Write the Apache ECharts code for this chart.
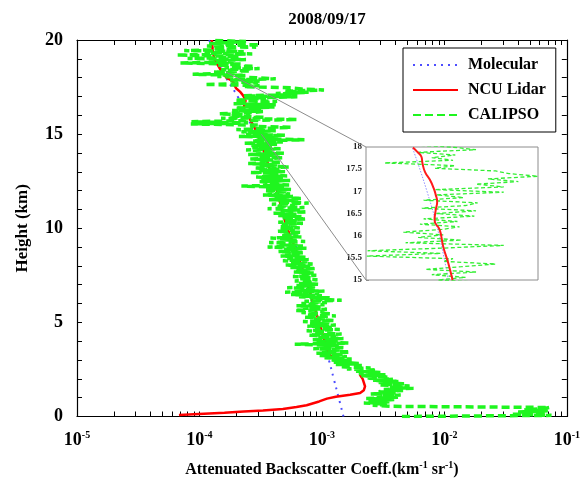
<!DOCTYPE html>
<html>
<head>
<meta charset="utf-8">
<script src="https://cdn.jsdelivr.net/npm/echarts@6/dist/echarts.min.js"></script>
<style>
  html, body { margin: 0; padding: 0; background: #fff; }
  #chart { width: 583px; height: 483px; }
</style>
</head>
<body>
<div id="chart"></div>
<script>
// ---- data ----
const molHeight = [0, 1, 2, 3, 4, 5, 6, 7, 8, 9, 10, 11, 12, 13, 14, 15, 16, 17, 18, 19, 20];
const molBeta = [1.50e-3, 1.37e-3, 1.25e-3, 1.14e-3, 1.03e-3, 9.3e-4, 8.4e-4, 7.6e-4, 6.9e-4, 6.2e-4,
  5.5e-4, 4.9e-4, 4.3e-4, 3.8e-4, 3.3e-4, 2.8e-4, 2.45e-4, 2.05e-4, 1.65e-4, 1.4e-4, 1.2e-4];

const lidarHeight = [0.08, 0.12, 0.16, 0.2, 0.26, 0.32, 0.4, 0.5, 0.6, 0.8, 0.95, 1.05, 1.15, 1.25, 1.4,
  1.6, 1.8, 2.0, 2.2, 2.4, 2.6, 2.8, 2.9, 3.0, 3.5, 4, 5, 6, 7, 8, 9, 10, 11, 12, 13, 14,
  15.0, 15.38, 15.75, 16.13, 16.35, 16.58, 16.77, 16.92, 17.07, 17.26, 17.44, 17.63, 17.78, 17.89, 17.99,
  18.25, 18.5, 19, 19.5, 20];
const lidarBeta = [6.8e-5, 9e-5, 1.2e-4, 1.6e-4, 2.3e-4, 3.3e-4, 4.8e-4, 6.2e-4, 7.5e-4, 9.5e-4, 1.1e-3, 1.3e-3, 1.7e-3, 2.05e-3, 2.2e-3,
  2.25e-3, 2.2e-3, 2.15e-3, 2.05e-3, 2.1e-3, 2.1e-3, 1.9e-3, 1.5e-3, 1.25e-3, 1.1e-3, 1.05e-3, 9.5e-4, 8.5e-4, 7.7e-4, 6.8e-4, 6.0e-4, 5.2e-4, 4.7e-4, 4.3e-4, 3.8e-4, 3.4e-4,
  2.98e-4, 2.8e-4, 2.6e-4, 2.47e-4, 2.29e-4, 2.33e-4, 2.38e-4, 2.33e-4, 2.26e-4, 2.14e-4, 1.99e-4, 1.92e-4, 1.89e-4, 1.78e-4, 1.67e-4,
  1.55e-4, 1.46e-4, 1.32e-4, 1.28e-4, 1.26e-4];

// CALIPSO profile, one value every 60 m starting at the ground
const CALIPSO_DZ = 0.06;
const calipsoBeta = [
  4.5e-3, 7.5e-2, 3.5e-2, 6.8e-2, 4.0e-2, 7.0e-2, 4.5e-2, 6.5e-2, 7.2e-2, 3.6e-3,
  2.6e-3, 3.4e-3, 2.2e-3, 3.6e-3, 2.4e-3, 3.9e-3, 2.3e-3, 4.2e-3, 2.8e-3, 4.4e-3,
  2.5e-3, 4.0e-3, 2.9e-3, 4.6e-3, 3.2e-3, 5.6e-3, 3.6e-3, 5.2e-3, 3.0e-3, 4.8e-3,
  2.9e-3, 4.3e-3, 2.6e-3, 3.8e-3, 2.3e-3, 3.5e-3, 2.1e-3, 3.3e-3, 2.0e-3, 3.0e-3,
  1.9e-3, 2.8e-3, 1.6e-3, 2.5e-3, 1.4e-3, 2.2e-3, 1.3e-3, 2.0e-3, 1.25e-3, 1.8e-3,
  1.2e-3, 1.75e-3, 1.05e-3, 1.6e-3, 9.5e-4, 1.5e-3, 9.0e-4, 1.7e-3, 1.0e-3, 1.45e-3,
  8.5e-4, 1.55e-3, 9.5e-4, 1.4e-3, 6.0e-4, 1.65e-3, 8.8e-4, 1.35e-3, 8.2e-4, 1.5e-3,
  9.0e-4, 1.3e-3, 7.8e-4, 1.45e-3, 8.5e-4, 1.2e-3, 7.5e-4, 1.4e-3, 8.8e-4, 1.25e-3,
  7.6e-4, 1.3e-3, 8.0e-4, 1.15e-3, 7.0e-4, 1.25e-3, 8.5e-4, 1.1e-3, 7.2e-4, 1.3e-3,
  7.5e-4, 1.2e-3, 6.8e-4, 1.05e-3, 6.0e-4, 1.1e-3, 7.0e-4, 9.8e-4, 6.2e-4, 1.05e-3,
  6.8e-4, 1.1e-3, 7.2e-4, 1.45e-3, 8.0e-4, 1.2e-3, 6.5e-4, 1.0e-3, 5.6e-4, 9.5e-4,
  5.0e-4, 1.05e-3, 6.0e-4, 9.0e-4, 5.2e-4, 8.8e-4, 6.2e-4, 9.4e-4, 6.5e-4, 8.5e-4,
  6.0e-4, 9.2e-4, 6.4e-4, 8.2e-4, 5.8e-4, 9.0e-4, 6.6e-4, 8.6e-4, 5.9e-4, 8.0e-4,
  6.2e-4, 9.0e-4, 5.5e-4, 8.2e-4, 5.0e-4, 8.4e-4, 5.6e-4, 7.6e-4, 4.8e-4, 7.8e-4,
  5.2e-4, 7.4e-4, 4.6e-4, 6.8e-4, 5.0e-4, 7.2e-4, 4.4e-4, 6.6e-4, 4.9e-4, 7.5e-4,
  3.6e-4, 7.0e-4, 4.5e-4, 6.5e-4, 3.7e-4, 7.3e-4, 4.8e-4, 6.2e-4, 3.8e-4, 6.8e-4,
  4.6e-4, 6.4e-4, 4.9e-4, 6.8e-4, 4.3e-4, 6.0e-4, 4.6e-4, 6.6e-4, 4.5e-4, 6.1e-4,
  4.7e-4, 7.0e-4, 4.4e-4, 6.4e-4, 5.0e-4, 7.4e-4, 4.6e-4, 6.8e-4, 4.4e-4, 6.2e-4,
  4.0e-4, 7.6e-4, 4.6e-4, 6.6e-4, 3.6e-4, 7.2e-4, 4.2e-4, 6.0e-4, 3.9e-4, 7.8e-4,
  4.4e-4, 6.4e-4, 3.7e-4, 6.9e-4, 4.1e-4, 5.8e-4, 3.3e-4, 5.5e-4, 3.6e-4, 5.2e-4,
  3.4e-4, 5.6e-4, 3.5e-4, 4.9e-4, 2.2e-4, 5.4e-4, 3.3e-4, 4.6e-4, 3.1e-4, 5.5e-4,
  3.2e-4, 4.8e-4, 2.9e-4, 5.2e-4, 3.3e-4, 4.4e-4, 2.6e-4, 5.0e-4, 3.0e-4, 4.5e-4,
  2.8e-4, 5.4e-4, 3.1e-4, 4.3e-4, 2.5e-4, 4.7e-4, 3.0e-4, 4.0e-4, 2.6e-4, 4.8e-4,
  3.0e-4, 4.4e-4, 2.5e-4, 4.9e-4, 2.9e-4, 4.1e-4, 2.4e-4, 4.6e-4, 2.7e-4, 3.9e-4,
  2.6e-4, 4.3e-4, 2.3e-4, 4.8e-4, 2.7e-4, 7.2e-4, 3.0e-4, 4.5e-4, 2.1e-4, 5.0e-4,
  2.4e-4, 3.6e-4, 2.2e-4, 4.2e-4, 2.0e-4, 3.4e-4, 5.6e-4, 2.6e-4, 3.0e-4, 8.5e-5,
  2.5e-4, 8.6e-5, 2.6e-4, 6.3e-4, 1.5e-4, 3.4e-4, 1.8e-4, 2.6e-4, 1.45e-4, 2.55e-4,
  3.3e-4, 1.85e-4, 3.2e-4, 1.95e-4, 4.1e-4, 2.35e-4, 4.2e-4, 1.9e-4, 3.6e-4, 4.3e-4,
  1.95e-4, 3.5e-4, 2.35e-4, 6.3e-4, 2.3e-4, 6.3e-4, 4.2e-4, 7.8e-4, 5.0e-4, 1.04e-3,
  6.8e-4, 5.6e-4, 2.3e-4, 3.1e-4, 1.1e-4, 3.0e-4, 2.2e-4, 3.1e-4, 1.78e-4, 4.2e-4,
  2.9e-4, 1.4e-4, 2.4e-4, 8.8e-5, 2.0e-4, 1.3e-4, 2.6e-4, 1.5e-4, 3.1e-4, 1.6e-4,
  2.8e-4, 1.4e-4, 2.2e-4, 7.0e-5, 1.9e-4, 1.2e-4, 2.4e-4, 8.0e-5, 1.7e-4, 2.1e-4,
  6.5e-5, 2.7e-4, 1.1e-4, 2.3e-4, 7.5e-5, 1.8e-4, 1.3e-4, 2.9e-4, 1.15e-4, 3.1e-4,
  1.2e-4, 1.6e-4, 2.4e-4, 1.3e-4
];
const calipsoHeight = calipsoBeta.map((_, i) => +(i * CALIPSO_DZ).toFixed(2));

// axes
const xDecades = [1e-5, 1e-4, 1e-3, 1e-2, 1e-1];
const xMantissa = [1, 2, 3, 4, 5, 6, 7, 8, 9];
const yLabels = [0, 5, 10, 15, 20];
const zoomRange = [15, 18];            // km shown in the inset
const insetX = [8.4e-5, 1.04e-3];
const insetTicks = [1e-4, 1.8e-4, 3.2e-4, 5.9e-4];
// connector start points on the main plot
const zoomAnchors = [[1.65e-4, 18.3], [3.2e-4, 15.0]];

const SERIF = '"Liberation Serif", "Times New Roman", serif';

const xMinorTicks = [];
xDecades.forEach(d => xMantissa.forEach(m => {
  const v = +(d * m).toPrecision(3);
  if (v <= 0.1 + 1e-12) xMinorTicks.push(v);
}));

const pairs = (xs, ys) => xs.map((x, i) => [x, ys[i]]);
const inZoom = (pts) => pts.filter(p => p[1] >= zoomRange[0] - 0.07 && p[1] <= zoomRange[1] + 0.07);

const molData = pairs(molBeta, molHeight);
const lidarData = pairs(lidarBeta, lidarHeight);
const calipsoData = pairs(calipsoBeta, calipsoHeight);

const chart = echarts.init(document.getElementById('chart'), null, { renderer: 'canvas' });

const mainX = (pos, withLabels) => ({
  type: 'log', logBase: 10, gridIndex: 0, position: pos,
  min: 1e-5, max: 1e-1,
  axisLine: { onZero: false, lineStyle: { color: '#000', width: 1.2 } },
  axisTick: { show: true, inside: true, length: 5, customValues: xMinorTicks, lineStyle: { color: '#000' } },
  axisLabel: withLabels ? {
    show: true, customValues: xDecades, margin: 14,
    formatter: v => '{b|10}{s|' + Math.round(Math.log10(v)) + '}',
    rich: {
      b: { fontFamily: SERIF, fontWeight: 'bold', fontSize: 18, color: '#000' },
      s: { fontFamily: SERIF, fontWeight: 'bold', fontSize: 10, color: '#000', padding: [0, 0, 10, 0] }
    }
  } : { show: false },
  splitLine: { show: false },
  name: withLabels ? 'Attenuated Backscatter Coeff.(km{s|-1} sr{s|-1})' : '',
  nameLocation: 'middle', nameGap: 44,
  nameTextStyle: {
    fontFamily: SERIF, fontWeight: 'bold', fontSize: 16, color: '#000',
    rich: { s: { fontFamily: SERIF, fontWeight: 'bold', fontSize: 10, color: '#000', padding: [0, 0, 9, 0] } }
  }
});

const mainY = (pos, withLabels) => ({
  type: 'value', gridIndex: 0, position: pos,
  min: 0, max: 20, interval: 1,
  axisLine: { onZero: false, lineStyle: { color: '#000', width: 1.2 } },
  axisTick: { show: true, inside: true, length: 5, lineStyle: { color: '#000' } },
  axisLabel: withLabels ? {
    show: true, customValues: yLabels, margin: 14,
    fontFamily: SERIF, fontWeight: 'bold', fontSize: 18, color: '#000'
  } : { show: false },
  splitLine: { show: false },
  name: withLabels ? 'Height (km)' : '',
  nameLocation: 'middle', nameGap: 46,
  nameTextStyle: { fontFamily: SERIF, fontWeight: 'bold', fontSize: 17, color: '#000' }
});

const option = {
  animation: false,
  backgroundColor: '#fff',
  title: {
    text: '2008/09/17', left: 322, top: 6, textAlign: 'center',
    textStyle: { fontFamily: SERIF, fontWeight: 'bold', fontSize: 17, color: '#000' }
  },
  legend: {
    data: ['Molecular', 'NCU Lidar', 'CALIPSO'],
    orient: 'vertical', left: 403, top: 48,
    itemWidth: 45, itemHeight: 14, itemGap: 9,
    padding: [9, 10, 9, 9],
    itemStyle: { opacity: 0 },
    backgroundColor: '#fff', borderColor: '#000', borderWidth: 1,
    textStyle: { fontFamily: SERIF, fontWeight: 'bold', fontSize: 16, color: '#000', padding: [0, 0, 0, 5] },
    selectedMode: false
  },
  grid: [
    { left: 77, right: 15, top: 40, bottom: 65, show: false },
    { left: 366, right: 45, top: 147, bottom: 203, show: true, backgroundColor: '#fff', borderColor: '#8c8c8c', borderWidth: 1, z: 5 }
  ],
  xAxis: [
    mainX('bottom', true),
    mainX('top', false),
    {
      type: 'log', logBase: 10, gridIndex: 1, min: insetX[0], max: insetX[1],
      axisLine: { show: false },
      axisTick: { show: true, inside: true, length: 3, customValues: insetTicks, lineStyle: { color: '#8c8c8c' } },
      axisLabel: { show: false },
      splitLine: { show: false }
    }
  ],
  yAxis: [
    mainY('left', true),
    mainY('right', false),
    {
      type: 'value', gridIndex: 1, min: zoomRange[0], max: zoomRange[1], interval: 0.5,
      axisLine: { show: false },
      axisTick: { show: true, inside: true, length: 3, lineStyle: { color: '#8c8c8c' } },
      axisLabel: { show: true, margin: 4, fontFamily: SERIF, fontWeight: 'bold', fontSize: 9, color: '#222' },
      splitLine: { show: false }
    }
  ],
  series: [
    {
      name: 'Molecular', type: 'line', xAxisIndex: 0, yAxisIndex: 0,
      data: molData, symbol: 'none', smooth: true,
      lineStyle: { color: '#4d4dff', width: 2, type: [2, 5] }, z: 2
    },
    {
      name: 'NCU Lidar', type: 'line', xAxisIndex: 0, yAxisIndex: 0,
      data: lidarData, symbol: 'none',
      lineStyle: { color: '#ff0000', width: 2.5 }, z: 3
    },
    {
      name: 'CALIPSO', type: 'line', xAxisIndex: 0, yAxisIndex: 0,
      data: calipsoData, symbol: 'none',
      lineStyle: { color: '#1ff51f', width: 3.5, type: [8, 4] }, z: 4
    },
    // inset
    {
      name: 'Molecular', type: 'line', xAxisIndex: 2, yAxisIndex: 2,
      data: inZoom(molData), symbol: 'none', smooth: true,
      lineStyle: { color: '#8f8fff', width: 1, type: [1.5, 1.5] }, z: 6
    },
    {
      name: 'CALIPSO', type: 'line', xAxisIndex: 2, yAxisIndex: 2,
      data: inZoom(calipsoData), symbol: 'none',
      lineStyle: { color: '#33ee33', width: 1.3, type: [4, 2.5] }, z: 6
    },
    {
      name: 'NCU Lidar', type: 'line', xAxisIndex: 2, yAxisIndex: 2,
      data: inZoom(lidarData), symbol: 'none', smooth: true,
      lineStyle: { color: '#ff1a1a', width: 2 }, z: 7
    }
  ]
};

chart.setOption(option);

// grey guide lines from the zoomed height band to the inset corners
const insetCorners = [[insetX[0], zoomRange[1]], [insetX[0], zoomRange[0]]];
const guides = zoomAnchors.map((a, i) => {
  const p0 = chart.convertToPixel({ xAxisIndex: 0, yAxisIndex: 0 }, a);
  const p1 = chart.convertToPixel({ xAxisIndex: 2, yAxisIndex: 2 }, insetCorners[i]);
  return {
    type: 'line', z: 100,
    shape: { x1: p0[0], y1: p0[1], x2: p1[0], y2: p1[1] },
    style: { stroke: '#8c8c8c', lineWidth: 1 }
  };
});
chart.setOption({ graphic: guides });
</script>
</body>
</html>
